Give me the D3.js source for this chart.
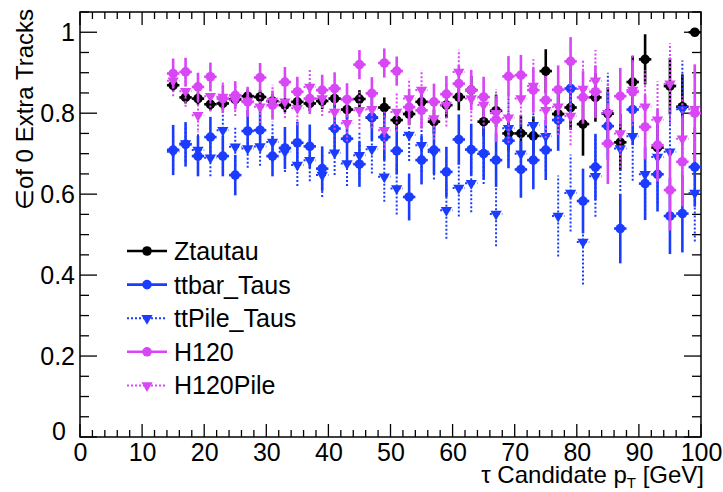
<!DOCTYPE html>
<html>
<head>
<meta charset="utf-8">
<script src="https://cdn.jsdelivr.net/npm/d3@7"></script>
<style>
  body { margin: 0; background: #fff; }
  text { font-family: "Liberation Sans", Arial, Helvetica, sans-serif; fill: #000; }
</style>
</head>
<body>
<div id="chart"></div>
<script>
// Bin centres (tau candidate pT, GeV)
const ptBins = [15, 17, 19, 21, 23, 25, 27, 29, 31, 33, 35, 37, 39, 41, 43, 45, 47, 49, 51, 53, 55,
                57, 59, 61, 63, 65, 67, 69, 71, 73, 75, 77, 79, 81, 83, 85, 87, 89, 91, 93, 95, 97, 99];

// Efficiency values
const ztautau = [0.869, 0.839, 0.836, 0.822, 0.824, 0.834, 0.842, 0.840, 0.830, 0.820, 0.828, 0.824, 0.830, 0.836,
                 0.809, 0.835, 0.789, 0.814, 0.783, 0.798, 0.828, 0.779, 0.820, 0.840, 0.857, 0.779, 0.806, 0.750,
                 0.750, 0.744, 0.904, 0.798, 0.814, 0.773, 0.839, 0.799, 0.728, 0.877, 0.933, 0.715, 0.867, 0.816, 1.000];
const ztautauErr = [0.015, 0.015, 0.015, 0.015, 0.015, 0.016, 0.016, 0.017, 0.017, 0.018, 0.018, 0.019, 0.020, 0.020,
                    0.022, 0.022, 0.024, 0.025, 0.026, 0.027, 0.028, 0.030, 0.032, 0.033, 0.035, 0.037, 0.040, 0.042,
                    0.045, 0.048, 0.054, 0.050, 0.055, 0.078, 0.060, 0.065, 0.070, 0.065, 0.062, 0.075, 0.070, 0.080, 0];

const ttbarTaus = [0.709, 0.723, 0.694, 0.741, 0.694, 0.647, 0.756, 0.758, 0.694, 0.714, 0.727, 0.718, 0.663, 0.762,
                   0.737, 0.674, 0.790, 0.741, 0.707, 0.593, 0.684, 0.709, 0.655, 0.735, 0.710, 0.700, 0.684, 0.732,
                   0.661, 0.684, 0.709, 0.783, 0.861, 0.583, 0.667, 0.768, 0.515, 0.809, 0.626, 0.649, 0.546, 0.552, 0.667];
const ttbarTausErr = [0.062, 0.055, 0.050, 0.050, 0.050, 0.050, 0.052, 0.052, 0.050, 0.052, 0.052, 0.054, 0.055, 0.055,
                      0.056, 0.056, 0.058, 0.058, 0.058, 0.058, 0.060, 0.060, 0.062, 0.062, 0.064, 0.064, 0.066, 0.068,
                      0.070, 0.072, 0.074, 0.076, 0.078, 0.080, 0.082, 0.084, 0.086, 0.088, 0.090, 0.092, 0.094, 0.096, 0.098];

const ttPileTaus = [0.705, 0.725, 0.709, 0.690, 0.758, 0.717, 0.713, 0.718, 0.729, 0.705, 0.672, 0.684, 0.647, 0.702,
                    0.676, 0.696, 0.711, 0.643, 0.614, 0.746, 0.721, 0.704, 0.560, 0.615, 0.627, 0.699, 0.551, 0.763,
                    0.700, 0.770, 0.743, 0.546, 0.603, 0.482, 0.644, 0.800, 0.713, 0.743, 0.649, 0.692, 0.705, 0.810, 0.603];
const ttPileTausErr = [0.045, 0.045, 0.045, 0.046, 0.046, 0.047, 0.048, 0.048, 0.050, 0.050, 0.052, 0.052, 0.054, 0.055,
                       0.056, 0.058, 0.060, 0.062, 0.064, 0.064, 0.066, 0.068, 0.070, 0.070, 0.072, 0.074, 0.080, 0.080,
                       0.082, 0.084, 0.086, 0.100, 0.095, 0.105, 0.100, 0.100, 0.105, 0.110, 0.110, 0.115, 0.115, 0.120, 0.120];

const h120 = [0.898, 0.902, 0.865, 0.890, 0.836, 0.844, 0.828, 0.888, 0.820, 0.877, 0.853, 0.836, 0.857, 0.861,
              0.834, 0.920, 0.849, 0.924, 0.904, 0.815, 0.807, 0.828, 0.847, 0.873, 0.857, 0.840, 0.784, 0.891,
              0.894, 0.857, 0.832, 0.858, 0.928, 0.839, 0.853, 0.725, 0.842, 0.853, 0.766, 0.721, 0.610, 0.680, 0.800];
const h120Err = [0.037, 0.035, 0.035, 0.035, 0.035, 0.035, 0.036, 0.036, 0.036, 0.037, 0.037, 0.038, 0.038, 0.040,
                 0.040, 0.036, 0.040, 0.036, 0.036, 0.045, 0.045, 0.045, 0.045, 0.045, 0.050, 0.050, 0.055, 0.050,
                 0.050, 0.055, 0.060, 0.060, 0.060, 0.065, 0.065, 0.100, 0.070, 0.075, 0.080, 0.090, 0.100, 0.110, 0.120];

const h120Pile = [0.880, 0.854, 0.795, 0.842, 0.840, 0.832, 0.830, 0.816, 0.830, 0.828, 0.812, 0.865, 0.836, 0.803,
                  0.775, 0.807, 0.810, 0.758, 0.803, 0.836, 0.857, 0.787, 0.820, 0.902, 0.836, 0.820, 0.800, 0.789,
                  0.836, 0.867, 0.807, 0.816, 0.793, 0.860, 0.880, 0.800, 0.750, 0.857, 0.816, 0.784, 0.873, 0.737, 0.810];
const h120PileErr = [0.038, 0.038, 0.038, 0.038, 0.038, 0.039, 0.039, 0.040, 0.040, 0.040, 0.042, 0.042, 0.043, 0.044,
                     0.045, 0.046, 0.047, 0.048, 0.048, 0.050, 0.050, 0.052, 0.053, 0.055, 0.056, 0.058, 0.060, 0.062,
                     0.064, 0.066, 0.068, 0.070, 0.072, 0.074, 0.076, 0.080, 0.085, 0.088, 0.090, 0.095, 0.100, 0.105, 0.110];

// Tick values
const xMajorTicks = [0, 10, 20, 30, 40, 50, 60, 70, 80, 90, 100];
const yMajorTicks = [0, 0.2, 0.4, 0.6, 0.8, 1];

// Colours
const black = '#000000';
const blue = '#1b3cff';
const magenta = '#d846f5';

// Series definitions (drawing order = legend order)
const series = [
    { name: 'Ztautau', values: ztautau, errors: ztautauErr, color: black, marker: 'circle', dotted: false },
    { name: 'ttbar_Taus', values: ttbarTaus, errors: ttbarTausErr, color: blue, marker: 'circle', dotted: false },
    { name: 'ttPile_Taus', values: ttPileTaus, errors: ttPileTausErr, color: blue, marker: 'triangle', dotted: true },
    { name: 'H120', values: h120, errors: h120Err, color: magenta, marker: 'circle', dotted: false },
    { name: 'H120Pile', values: h120Pile, errors: h120PileErr, color: magenta, marker: 'triangle', dotted: true }
];

const width = 723;
const height = 492;

// Frame of the plot
const frameLeft = 80, frameRight = 701, frameTop = 12, frameBottom = 437;

const xScale = d3.scaleLinear().domain([0, 100]).range([frameLeft, frameRight]);
const yScale = d3.scaleLinear().domain([0, 1.05]).range([frameBottom, frameTop]);

const svg = d3.select('#chart').append('svg')
    .attr('width', width)
    .attr('height', height);

svg.append('rect')
    .attr('width', width)
    .attr('height', height)
    .attr('fill', '#fff');

// Minor tick values
const xMinorTicks = d3.range(0, 101, 2).filter(v => v % 10 !== 0);
const yMinorTicks = d3.range(0, 1.051, 0.05).filter(v => Math.abs(v * 5 - Math.round(v * 5)) > 1e-6);

// Ticks pointing inside the frame on all four sides
function drawTicks(vals, orient, pos, len) {
    svg.append('g').selectAll('line')
        .data(vals)
        .enter().append('line')
        .attr('x1', d => orient === 'x' ? xScale(d) : pos)
        .attr('x2', d => orient === 'x' ? xScale(d) : pos + len)
        .attr('y1', d => orient === 'y' ? yScale(d) : pos)
        .attr('y2', d => orient === 'y' ? yScale(d) : pos + len)
        .attr('stroke', '#000')
        .attr('stroke-width', 1.3);
}

drawTicks(xMajorTicks, 'x', frameBottom, -13);
drawTicks(xMinorTicks, 'x', frameBottom, -7);
drawTicks(xMajorTicks, 'x', frameTop, 13);
drawTicks(xMinorTicks, 'x', frameTop, 7);
drawTicks(yMajorTicks, 'y', frameLeft, 17);
drawTicks(yMinorTicks, 'y', frameLeft, 9);
drawTicks(yMajorTicks, 'y', frameRight, -17);
drawTicks(yMinorTicks, 'y', frameRight, -9);

// Tick labels via d3 axes (tick lines hidden, labels only)
const xAxis = svg.append('g')
    .attr('transform', `translate(0, ${frameBottom})`)
    .call(d3.axisBottom(xScale).tickValues(xMajorTicks).tickSize(0).tickPadding(6).tickFormat(d3.format('d')));
const yAxis = svg.append('g')
    .attr('transform', `translate(${frameLeft}, 0)`)
    .call(d3.axisLeft(yScale).tickValues(yMajorTicks).tickSize(0).tickPadding(5).tickFormat(d => d === 0 ? '0' : d3.format('.1~f')(d)));

[xAxis, yAxis].forEach(ax => {
    ax.select('.domain').remove();
    ax.selectAll('text')
        .attr('font-size', 25)
        .attr('font-family', '"Liberation Sans", Arial, sans-serif')
        .attr('fill', '#000');
});
// ROOT nudges the zero label of the y axis away from the x axis zero
yAxis.selectAll('.tick').filter(d => d === 0).select('text')
    .attr('x', -14).attr('dy', '0.1em');

// Frame
svg.append('rect')
    .attr('x', frameLeft)
    .attr('y', frameTop)
    .attr('width', frameRight - frameLeft)
    .attr('height', frameBottom - frameTop)
    .attr('fill', 'none')
    .attr('stroke', '#000')
    .attr('stroke-width', 1.5);

// Axis titles
svg.append('text')
    .attr('x', frameRight + 3)
    .attr('y', 483)
    .attr('text-anchor', 'end')
    .attr('font-size', 24)
    .html('τ Candidate p<tspan font-size="15" dy="5">T</tspan><tspan dy="-5"> [GeV]</tspan>');

svg.append('text')
    .attr('transform', 'translate(33, 9) rotate(-90)')
    .attr('text-anchor', 'end')
    .attr('font-size', 24)
    .text('∈of 0 Extra Tracks');

// Marker drawing helper
const triangle = d3.symbol().type(d3.symbolTriangle).size(55);
function drawMarker(g, type, color, cx, cy) {
    if (type === 'circle') {
        g.append('circle')
            .attr('cx', cx)
            .attr('cy', cy)
            .attr('r', 4.8)
            .attr('fill', color);
    } else {
        g.append('path')
            .attr('d', triangle())
            .attr('transform', `translate(${cx}, ${cy}) rotate(180)`)
            .attr('fill', color);
    }
}

// Data points with error bars
const plot = svg.append('g');
series.forEach(s => {
    const g = plot.append('g').attr('class', 'series');
    const dash = s.dotted ? '2,2' : null;
    const lw = s.dotted ? 2 : 2.6;
    ptBins.forEach((pt, i) => {
        const v = s.values[i];
        const e = s.errors[i];
        const cx = xScale(pt);
        const cy = yScale(v);
        // horizontal bar: bin width
        g.append('line')
            .attr('x1', xScale(pt - 1)).attr('x2', xScale(pt + 1))
            .attr('y1', cy).attr('y2', cy)
            .attr('stroke', s.color).attr('stroke-width', lw)
            .attr('stroke-dasharray', dash);
        // vertical error bar
        if (e > 0) {
            g.append('line')
                .attr('x1', cx).attr('x2', cx)
                .attr('y1', yScale(Math.max(0, v - e)))
                .attr('y2', yScale(Math.min(1.05, v + e)))
                .attr('stroke', s.color).attr('stroke-width', lw)
                .attr('stroke-dasharray', dash);
        }
        drawMarker(g, s.marker, s.color, cx, cy);
    });
});

// Legend
const legend = svg.append('g');
series.forEach((s, i) => {
    const ly = 251 + i * 33.6;
    legend.append('line')
        .attr('x1', 127).attr('x2', 167)
        .attr('y1', ly).attr('y2', ly)
        .attr('stroke', s.color)
        .attr('stroke-width', s.dotted ? 2 : 2.6)
        .attr('stroke-dasharray', s.dotted ? '2,2' : null);
    drawMarker(legend, s.marker, s.color, 147, ly);
    legend.append('text')
        .attr('x', 174)
        .attr('y', ly)
        .attr('dy', '0.36em')
        .attr('font-size', 25)
        .text(s.name);
});
</script>
</body>
</html>
